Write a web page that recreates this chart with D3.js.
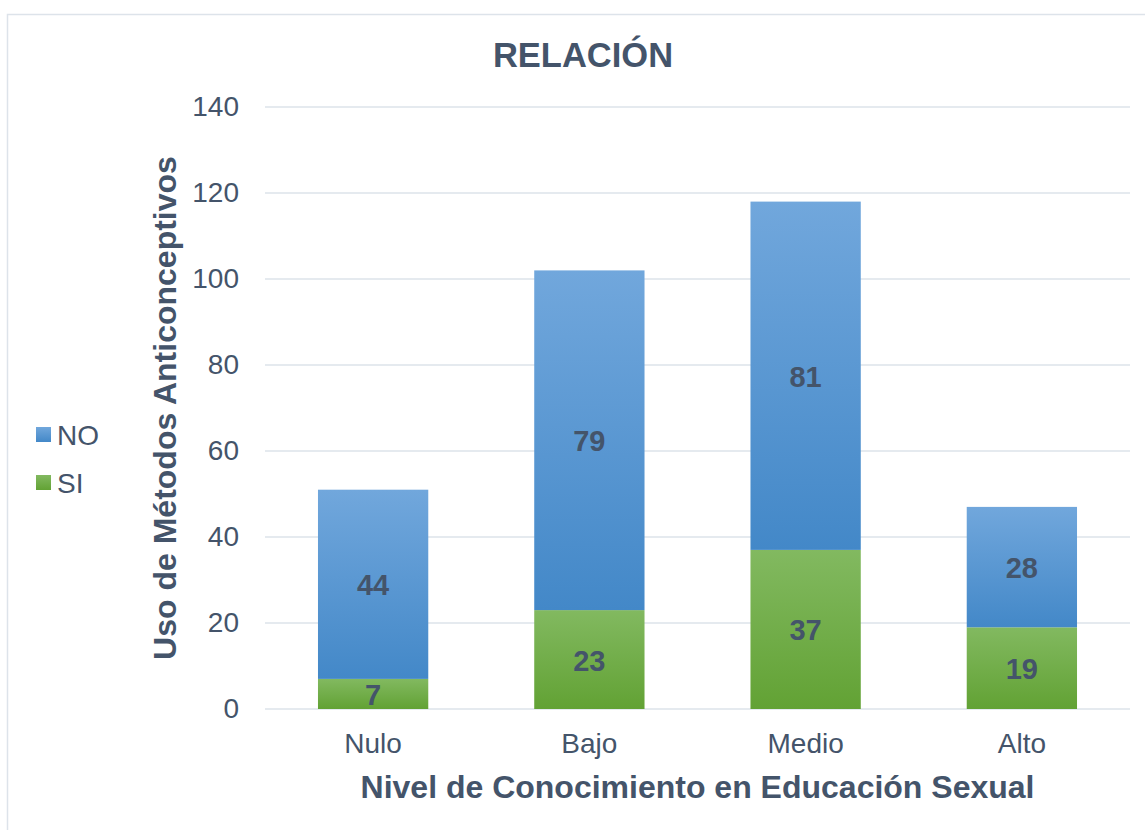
<!DOCTYPE html>
<html>
<head>
<meta charset="utf-8">
<script src="https://cdn.jsdelivr.net/npm/d3@7"></script>
<style>
  body { margin: 0; background: #fff; font-family: "Liberation Sans", Arial, sans-serif; }
</style>
</head>
<body>
<div id="viz"></div>
<script>
const categories = ["Nulo", "Bajo", "Medio", "Alto"];
const siValues = [7, 23, 37, 19];
const noValues = [44, 79, 81, 28];
const yTicks = [0, 20, 40, 60, 80, 100, 120, 140];

const width = 1145;
const height = 830;
const textColor = "#44546a";

const svg = d3.select("#viz").append("svg")
    .attr("width", width)
    .attr("height", height);

// gradients for the bars
const defs = svg.append("defs");
function grad(id, top, bottom) {
  const g = defs.append("linearGradient").attr("id", id)
      .attr("x1", 0).attr("y1", 0).attr("x2", 0).attr("y2", 1);
  g.append("stop").attr("offset", "0%").attr("stop-color", top);
  g.append("stop").attr("offset", "100%").attr("stop-color", bottom);
}
grad("gNo", "#71a7dc", "#4388c8");
grad("gSi", "#82b960", "#62a234");

// chart frame
svg.append("rect")
    .attr("x", 7.5).attr("y", 14.5)
    .attr("width", width).attr("height", height)
    .attr("fill", "none")
    .attr("stroke", "#dde3ea")
    .attr("stroke-width", 1.5);

const margin = { left: 265, right: 15, top: 107, bottom: 121 };

const x = d3.scaleBand()
    .domain(categories)
    .range([margin.left, width - margin.right])
    .paddingInner(0.49)
    .paddingOuter(0.245);

const y = d3.scaleLinear()
    .domain([0, 140])
    .range([height - margin.bottom, margin.top]);

// gridlines
svg.append("g")
  .selectAll("line")
  .data(yTicks)
  .join("line")
    .attr("x1", margin.left)
    .attr("x2", width - margin.right)
    .attr("y1", d => y(d))
    .attr("y2", d => y(d))
    .attr("stroke", "#dde3ea")
    .attr("stroke-width", 1.5);

// y axis labels
const yAxis = svg.append("g")
    .attr("transform", `translate(${margin.left - 26},0)`)
    .call(d3.axisLeft(y).tickValues(yTicks).tickSize(0).tickPadding(0));
yAxis.select(".domain").remove();
yAxis.selectAll("text")
    .attr("fill", textColor)
    .style("font-size", "28px")
    .style("font-family", "Liberation Sans, Arial, sans-serif");

// x axis labels
const xAxis = svg.append("g")
    .attr("transform", `translate(0,${y(0) + 24})`)
    .call(d3.axisBottom(x).tickSize(0).tickPadding(0));
xAxis.select(".domain").remove();
xAxis.selectAll("text")
    .attr("fill", textColor)
    .style("font-size", "28px")
    .style("font-family", "Liberation Sans, Arial, sans-serif");

const rows = categories.map((c, i) => ({ cat: c, si: siValues[i], no: noValues[i] }));

// SI segment
svg.append("g").selectAll("rect")
  .data(rows)
  .join("rect")
    .attr("x", d => x(d.cat))
    .attr("width", x.bandwidth())
    .attr("y", d => y(d.si))
    .attr("height", d => y(0) - y(d.si))
    .attr("fill", "url(#gSi)");

// NO segment
svg.append("g").selectAll("rect")
  .data(rows)
  .join("rect")
    .attr("x", d => x(d.cat))
    .attr("width", x.bandwidth())
    .attr("y", d => y(d.si + d.no))
    .attr("height", d => y(d.si) - y(d.si + d.no))
    .attr("fill", "url(#gNo)");

// value labels
const labels = svg.append("g")
    .attr("fill", textColor)
    .attr("font-weight", "bold")
    .attr("font-size", "29px")
    .attr("text-anchor", "middle")
    .attr("dominant-baseline", "central");

labels.selectAll("text.si")
  .data(rows)
  .join("text")
    .attr("class", "si")
    .attr("x", d => x(d.cat) + x.bandwidth() / 2)
    .attr("y", d => y(d.si / 2) + 1)
    .text(d => d.si);

labels.selectAll("text.no")
  .data(rows)
  .join("text")
    .attr("class", "no")
    .attr("x", d => x(d.cat) + x.bandwidth() / 2)
    .attr("y", d => y(d.si + d.no / 2) + 1)
    .text(d => d.no);

// title
svg.append("text")
    .attr("x", 583)
    .attr("y", 67)
    .attr("text-anchor", "middle")
    .attr("fill", textColor)
    .attr("font-weight", "bold")
    .attr("font-size", "34.5px")
    .text("RELACIÓN");

// axis titles
svg.append("text")
    .attr("x", (margin.left + width - margin.right) / 2)
    .attr("y", 798)
    .attr("text-anchor", "middle")
    .attr("fill", textColor)
    .attr("font-weight", "bold")
    .attr("font-size", "32px")
    .text("Nivel de Conocimiento en Educación Sexual");

svg.append("text")
    .attr("transform", `translate(176,${(y(0) + y(140)) / 2}) rotate(-90)`)
    .attr("text-anchor", "middle")
    .attr("fill", textColor)
    .attr("font-weight", "bold")
    .attr("font-size", "32px")
    .text("Uso de Métodos Anticonceptivos");

// legend
const legendItems = [
  { name: "NO", fill: "url(#gNo)", y: 434 },
  { name: "SI", fill: "url(#gSi)", y: 482 }
];
const legend = svg.append("g").selectAll("g")
  .data(legendItems)
  .join("g")
    .attr("transform", d => `translate(36,${d.y})`);
legend.append("rect")
    .attr("x", 0).attr("y", -7)
    .attr("width", 15).attr("height", 15)
    .attr("fill", d => d.fill);
legend.append("text")
    .attr("x", 21)
    .attr("y", 1)
    .attr("dominant-baseline", "central")
    .attr("fill", textColor)
    .attr("font-size", "28px")
    .text(d => d.name);
</script>
</body>
</html>
